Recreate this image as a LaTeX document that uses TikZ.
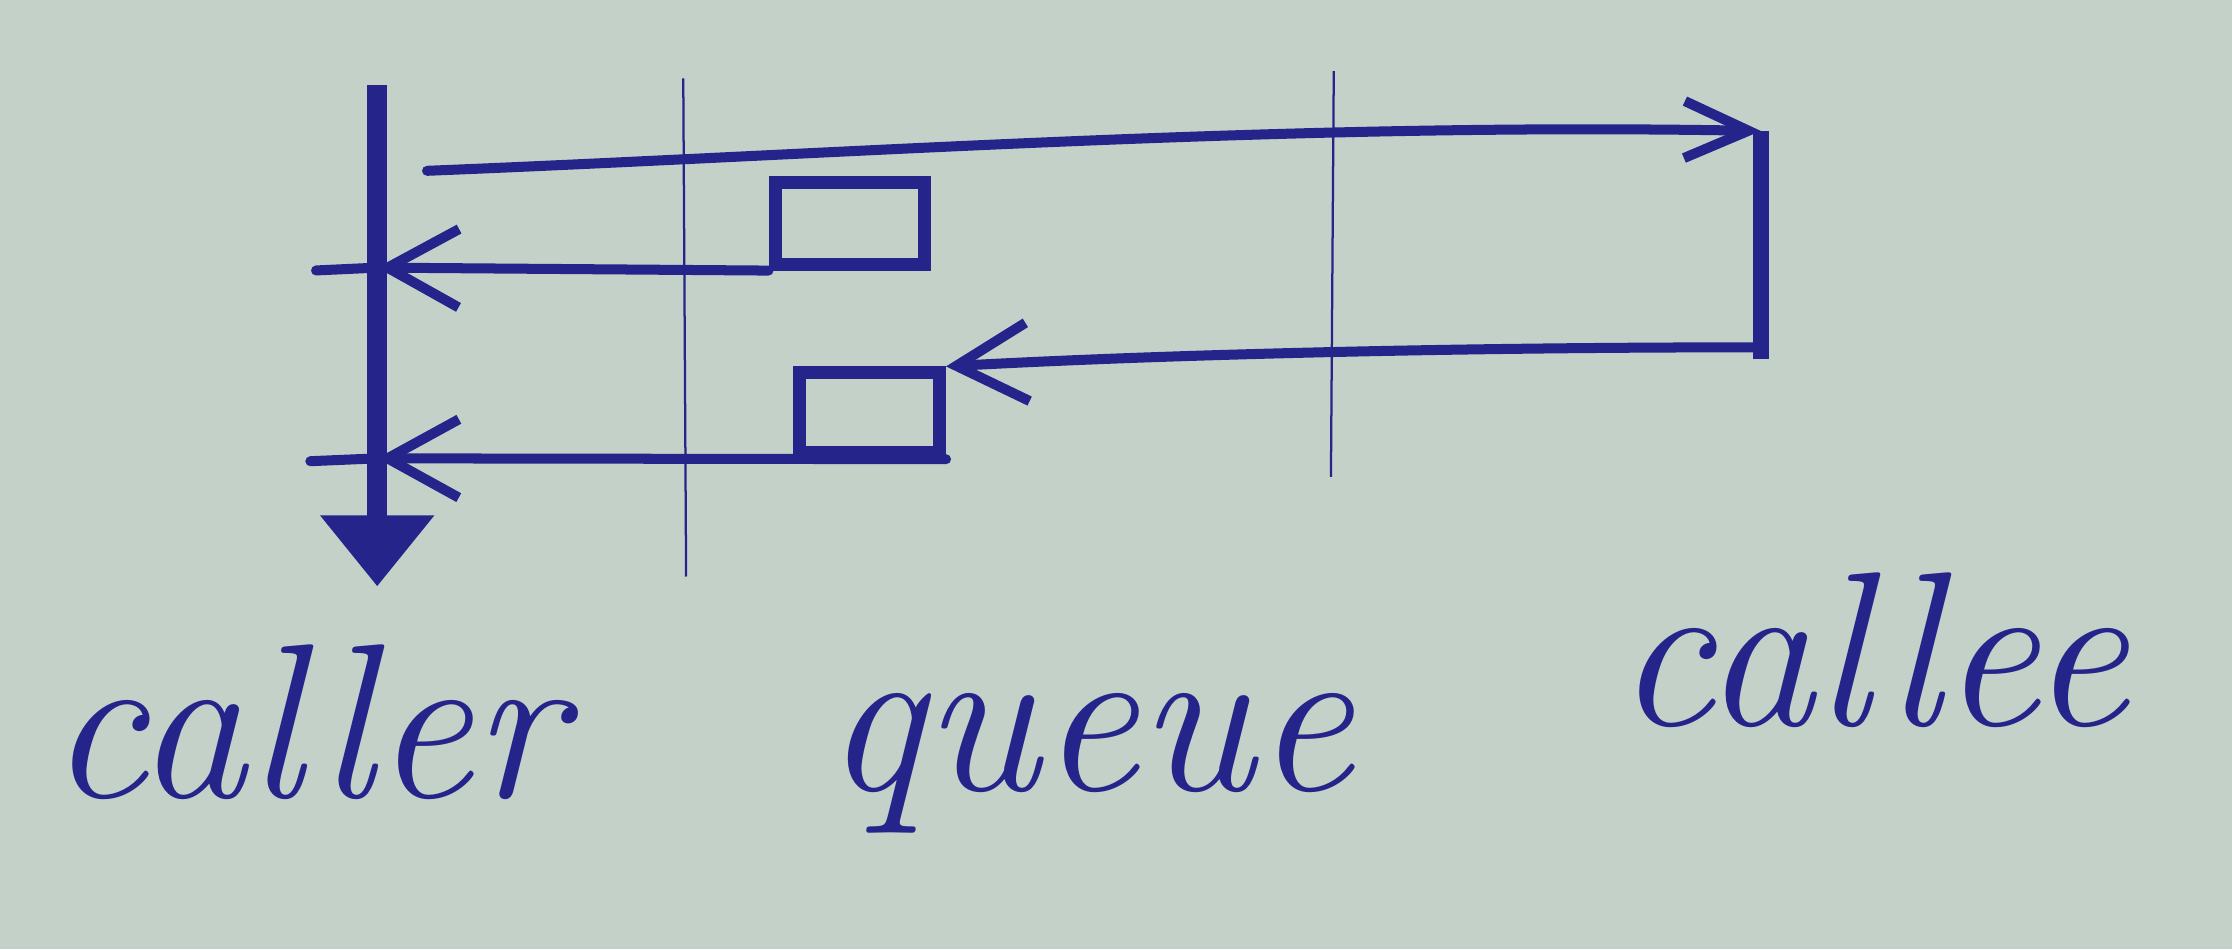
\documentclass[tikz,border=0pt]{standalone}
\usetikzlibrary{arrows.meta}
\definecolor{ink}{RGB}{36,36,138}
\definecolor{paper}{RGB}{196,209,200}
\begin{document}
\begin{tikzpicture}[x=0.01cm,y=-0.01cm,
  pen/.style={draw=ink,line width=2.0pt,line cap=round,line join=round},
  thinpen/.style={draw=ink,line width=0.45pt},
  lifeline/.style={draw=ink,line width=4pt},
  calleebar/.style={draw=ink,line width=3.2pt},
  qbox/.style={draw=ink,line width=2.6pt,inner sep=0pt},
  barb/.style={-{Straight Barb[length=0.5cm,width=0.55cm]}},
  lbl/.style={text=ink,font=\fontsize{44}{50}\selectfont\itshape,anchor=base}]
\fill[paper] (0,0) rectangle (1568,667);
\useasboundingbox (0,0) rectangle (1568,667);
% coordinates
\coordinate (callerTop) at (265,60);
\coordinate (callerBot) at (265,412);
\coordinate (queueTop) at (480,55);
\coordinate (queueBot) at (482,405);
\coordinate (calleeLineTop) at (937,50);
\coordinate (calleeLineBot) at (935,335);
\coordinate (calleeTop) at (1237,92);
\coordinate (calleeBot) at (1237,252);
\coordinate (calleeOut) at (1235,244);
\coordinate (reqStart) at (300,120);
\coordinate (cIn1) at (265,188);
\coordinate (cEnd1) at (222,190);
\coordinate (cIn2) at (265,322);
\coordinate (cEnd2) at (218,324);
% queue boxes
\node[qbox,minimum width=1.05cm,minimum height=0.57cm] (box1) at (597,157) {};
\node[qbox,minimum width=0.98cm,minimum height=0.56cm] (box2) at (611,290) {};
% lifelines
\draw[thinpen] (queueTop) -- (queueBot);
\draw[thinpen] (calleeLineTop) -- (calleeLineBot);
\draw[lifeline,-{Triangle[length=0.5cm,width=0.77cm]}] (callerTop) -- (callerBot);
\draw[calleebar] (calleeTop) -- (calleeBot);
% messages
\draw[pen,-{Straight Barb[length=0.45cm,width=0.4cm]}] (reqStart) .. controls (600,108) and (900,86) .. (calleeTop);
\draw[pen,barb] (calleeOut) .. controls (1000,244) and (800,250) .. (box2.north east);
\draw[pen,barb] (box1.south west) -- (cIn1);
\draw[pen] (cIn1) -- (cEnd1);
\draw[pen,barb] (box2.south east) -- (cIn2);
\draw[pen] (cIn2) -- (cEnd2);
% labels
\node[lbl] (lcaller) at (215,560) {caller};
\node[lbl] (lqueue) at (765,555) {queue};
\node[lbl] (lcallee) at (1315,510) {callee};
\end{tikzpicture}
\end{document}
